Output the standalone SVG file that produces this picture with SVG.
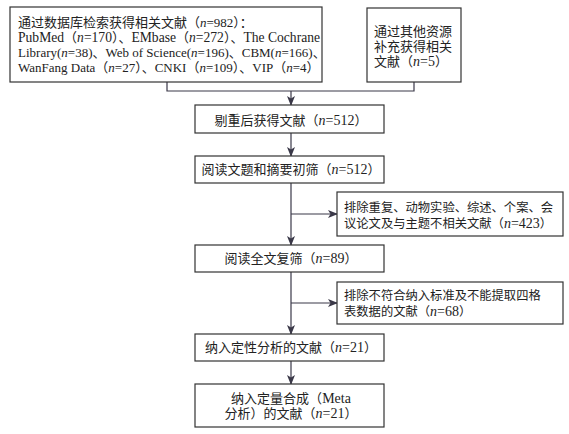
<svg xmlns="http://www.w3.org/2000/svg" width="569" height="434" viewBox="0 0 569 434">
<defs>
<style>
.box{fill:#fff;stroke:#333;stroke-width:1.2}
.t{font-family:"Liberation Serif","Noto Sans CJK SC",serif;font-size:13px;fill:#222}
.s{font-size:12.3px}
.c{text-anchor:middle}
.l{font-size:14px}
.i{font-size:14px;font-style:italic}
.m{font-size:13.6px}
.j{font-style:italic}
.ln{fill:none;stroke:#3a3848;stroke-width:1.2}
</style>
<marker id="ah" markerWidth="10" markerHeight="8" refX="9" refY="4" orient="auto" markerUnits="userSpaceOnUse">
<path d="M0,0 L10,4 L0,8 L2.5,4 Z" fill="#3a3848"/>
</marker>
</defs>
<rect width="569" height="434" fill="#fff"/>
<g id="connectors">
<path class="ln" d="M167,82 V91 H414 V82"/>
<path class="ln" d="M291,91 V105" marker-end="url(#ah)"/>
<path class="ln" d="M291,133 V156" marker-end="url(#ah)"/>
<path class="ln" d="M291,183 V245" marker-end="url(#ah)"/>
<path class="ln" d="M291,214 H337" marker-end="url(#ah)"/>
<path class="ln" d="M291,272 V334" marker-end="url(#ah)"/>
<path class="ln" d="M291,303 H337" marker-end="url(#ah)"/>
<path class="ln" d="M291,361 V384" marker-end="url(#ah)"/>
</g>
<g id="db">
<rect class="box" x="10" y="7" width="312" height="75"/>
<text class="t" x="18" y="27">通过数据库检索获得相关文献（<tspan class="j">n</tspan>=982）：</text>
<text class="t" x="18" y="42"><tspan class="m">PubMed</tspan>（<tspan class="m j">n</tspan><tspan class="m">=170</tspan>）、<tspan class="m">EMbase</tspan>（<tspan class="m j">n</tspan><tspan class="m">=272</tspan>）、<tspan class="m">The Cochrane</tspan></text>
<text class="t" x="18" y="57">Library(<tspan class="j">n</tspan>=38)、Web of Science(<tspan class="j">n</tspan>=196)、CBM(<tspan class="j">n</tspan>=166)、</text>
<text class="t" x="18" y="72">WanFang Data（<tspan class="j">n</tspan>=27）、CNKI（<tspan class="j">n</tspan>=109）、VIP（<tspan class="j">n</tspan>=4）</text>
</g>
<g id="other">
<rect class="box" x="367" y="8" width="94" height="74"/>
<text class="t" x="374" y="36">通过其他资源</text>
<text class="t" x="374" y="51">补充获得相关</text>
<text class="t" x="374" y="66">文献（<tspan class="i">n</tspan><tspan class="l">=5</tspan>）</text>
</g>
<g id="dedup">
<rect class="box" x="195" y="105" width="189" height="28"/>
<text class="t c" x="291" y="125">剔重后获得文献（<tspan class="i">n</tspan><tspan class="l">=512</tspan>）</text>
</g>
<g id="screen">
<rect class="box" x="195" y="156" width="189" height="27"/>
<text class="t c" x="291" y="174">阅读文题和摘要初筛（<tspan class="i">n</tspan><tspan class="l">=512</tspan>）</text>
</g>
<g id="excl1">
<rect class="box" x="337" y="192" width="226" height="44"/>
<text class="t s" x="344" y="212">排除重复、动物实验、综述、个案、会</text>
<text class="t s" x="344" y="228">议论文及与主题不相关文献（<tspan class="i">n</tspan><tspan class="l">=423</tspan>）</text>
</g>
<g id="fulltext">
<rect class="box" x="195" y="245" width="189" height="27"/>
<text class="t c" x="291" y="263">阅读全文复筛（<tspan class="i">n</tspan><tspan class="l">=89</tspan>）</text>
</g>
<g id="excl2">
<rect class="box" x="337" y="282" width="226" height="42"/>
<text class="t s" x="344" y="300">排除不符合纳入标准及不能提取四格</text>
<text class="t s" x="344" y="316">表数据的文献（<tspan class="i">n</tspan><tspan class="l">=68</tspan>）</text>
</g>
<g id="qual">
<rect class="box" x="195" y="334" width="189" height="27"/>
<text class="t c" x="291" y="352">纳入定性分析的文献（<tspan class="i">n</tspan><tspan class="l">=21</tspan>）</text>
</g>
<g id="meta">
<rect class="box" x="195" y="384" width="189" height="43"/>
<text class="t c" x="291" y="403">纳入定量合成（<tspan class="l">Meta</tspan></text>
<text class="t c" x="291" y="418">分析）的文献（<tspan class="i">n</tspan><tspan class="l">=21</tspan>）</text>
</g>
</svg>
